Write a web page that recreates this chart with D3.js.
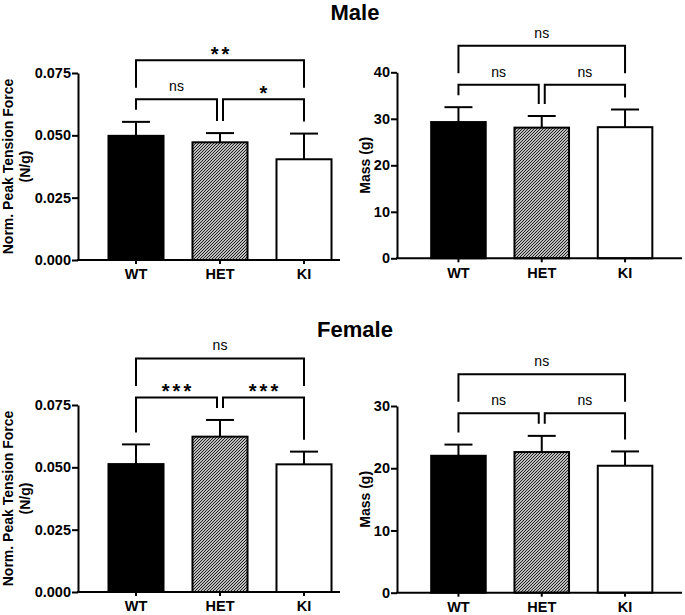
<!DOCTYPE html>
<html>
<head>
<meta charset="utf-8">
<script src="https://cdn.jsdelivr.net/npm/d3@7/dist/d3.min.js"></script>
<style>
  html, body { margin: 0; padding: 0; background: #fff; }
  svg text { font-family: "Liberation Sans", Arial, Helvetica, sans-serif; }
</style>
</head>
<body>
<svg id="chart" width="685" height="615"></svg>
<script>
// ---------- data ----------
const categories = ["WT", "HET", "KI"];

const maleForce    = [0.0498, 0.0472, 0.0404];
const maleForceSD  = [0.0056, 0.0037, 0.0103];
const maleMass     = [29.3, 28.1, 28.2];
const maleMassSD   = [3.2, 2.5, 3.8];

const femaleForce   = [0.0513, 0.0623, 0.0512];
const femaleForceSD = [0.0079, 0.0067, 0.0051];
const femaleMass    = [22.0, 22.6, 20.4];
const femaleMassSD  = [1.8, 2.6, 2.3];

const forceTicks      = [0, 0.025, 0.05, 0.075];
const maleMassTicks   = [0, 10, 20, 30, 40];
const femaleMassTicks = [0, 10, 20, 30];

// comparisons: [from, to, label]
const maleForceSig   = [["WT", "HET", "ns"], ["HET", "KI", "*"], ["WT", "KI", "**"]];
const maleMassSig    = [["WT", "HET", "ns"], ["HET", "KI", "ns"], ["WT", "KI", "ns"]];
const femaleForceSig = [["WT", "HET", "***"], ["HET", "KI", "***"], ["WT", "KI", "ns"]];
const femaleMassSig  = [["WT", "HET", "ns"], ["HET", "KI", "ns"], ["WT", "KI", "ns"]];

const forceLabel = ["Norm. Peak Tension Force", "(N/g)"];
const massLabel  = ["Mass (g)"];

// ---------- drawing ----------
const svg = d3.select("#chart");
const defs = svg.append("defs");
const pat = defs.append("pattern")
  .attr("id", "hatch").attr("patternUnits", "userSpaceOnUse")
  .attr("width", 3).attr("height", 3);
pat.append("rect").attr("width", 3).attr("height", 3).attr("fill", "#fff");
pat.append("path").attr("d", "M-1,1 l2,-2 M0,3 l3,-3 M2,4 l2,-2")
  .attr("stroke", "#111").attr("stroke-width", 1.05);

const fills = { WT: "#000", HET: "url(#hatch)", KI: "#fff" };

function panel(opt) {
  const g = svg.append("g");
  const x = d3.scaleBand().domain(categories)
    .range([opt.bandStart, opt.bandStart + opt.step * 3])
    .paddingInner(0.345).paddingOuter(0.1725);
  const y = d3.scaleLinear().domain([0, opt.ticks[opt.ticks.length - 1]])
    .range([opt.yBottom, opt.yTop]);

  const data = categories.map((c, i) => ({ c, v: opt.values[i], e: opt.sd[i] }));

  // bars
  g.selectAll("rect.bar").data(data).join("rect")
    .attr("class", "bar")
    .attr("x", d => x(d.c)).attr("width", x.bandwidth())
    .attr("y", d => y(d.v)).attr("height", d => y(0) - y(d.v))
    .attr("fill", d => fills[d.c])
    .attr("stroke", "#000").attr("stroke-width", 2);

  // error bars
  const cap = 28;
  g.selectAll("line.err").data(data).join("line")
    .attr("x1", d => x(d.c) + x.bandwidth() / 2).attr("x2", d => x(d.c) + x.bandwidth() / 2)
    .attr("y1", d => y(d.v)).attr("y2", d => y(d.v + d.e))
    .attr("stroke", "#000").attr("stroke-width", 2);
  g.selectAll("line.cap").data(data).join("line")
    .attr("x1", d => x(d.c) + x.bandwidth() / 2 - cap / 2)
    .attr("x2", d => x(d.c) + x.bandwidth() / 2 + cap / 2)
    .attr("y1", d => y(d.v + d.e)).attr("y2", d => y(d.v + d.e))
    .attr("stroke", "#000").attr("stroke-width", 2);

  // y axis
  const ya = g.append("g").attr("transform", `translate(${opt.axisX},0)`)
    .call(d3.axisLeft(y).tickValues(opt.ticks).tickFormat(opt.fmt)
      .tickSize(6).tickSizeOuter(0).tickPadding(1));
  ya.select(".domain").attr("stroke-width", 2);
  ya.selectAll(".tick line").attr("stroke-width", 2);
  ya.selectAll(".tick text").attr("font-size", 14.5).attr("font-weight", "bold")
    .attr("font-family", "Liberation Sans, Arial, sans-serif").attr("fill", "#000");

  // x axis
  const xa = g.append("g").attr("transform", `translate(0,${opt.yBottom})`)
    .call(d3.axisBottom(x).tickSize(4).tickSizeOuter(0).tickPadding(5));
  xa.select(".domain").remove();
  xa.selectAll(".tick line").attr("stroke-width", 2);
  xa.selectAll(".tick text").attr("font-size", 14.5).attr("font-weight", "bold")
    .attr("font-family", "Liberation Sans, Arial, sans-serif").attr("fill", "#000");
  g.append("line").attr("x1", opt.axisX - 1).attr("x2", opt.axisEnd)
    .attr("y1", opt.yBottom).attr("y2", opt.yBottom)
    .attr("stroke", "#000").attr("stroke-width", 2);

  // y label
  const lbl = g.append("text")
    .attr("transform", `translate(${opt.labelX},${(opt.yTop + opt.yBottom) / 2}) rotate(-90)`)
    .attr("text-anchor", "middle").attr("font-size", 14).attr("font-weight", "bold");
  opt.label.forEach((t, i) => {
    lbl.append("tspan").attr("x", 0).attr("dy", i === 0 ? 0 : 17).text(t);
  });

  // significance brackets
  const cx = c => x(c) + x.bandwidth() / 2;
  const errTop = {};
  data.forEach(d => errTop[d.c] = y(d.v + d.e));
  const lowY = d3.min(data, d => errTop[d.c]) - 22.5;
  const topY = lowY - 39;
  opt.sig.forEach(([a, b, label]) => {
    const wide = (a === categories[0] && b === categories[2]);
    const by = wide ? topY : lowY;
    let xa1 = cx(a), xb1 = cx(b);
    let ya1, yb1;
    if (wide) { ya1 = yb1 = lowY - 11.5; }
    else {
      ya1 = errTop[a] - 12; yb1 = errTop[b] - 12;
      if (a === "HET") xa1 += 3;
      if (b === "HET") xb1 -= 3;
    }
    g.append("path")
      .attr("d", `M${xa1},${ya1} V${by} H${xb1} V${yb1}`)
      .attr("fill", "none").attr("stroke", "#000").attr("stroke-width", 2);
    const isStar = label.indexOf("*") >= 0;
    g.append("text")
      .attr("x", (xa1 + xb1) / 2 + (isStar ? 1.5 : 0))
      .attr("y", isStar ? by + 0.5 : by - 8)
      .attr("text-anchor", "middle")
      .attr("font-size", isStar ? 20 : 14)
      .attr("font-weight", isStar ? "bold" : "normal")
      .attr("letter-spacing", isStar ? 3 : 0)
      .text(label);
  });
}

const fmt3 = d3.format(".3f");
const fmt0 = d3.format("d");

panel({ values: maleForce, sd: maleForceSD, ticks: forceTicks, fmt: fmt3, sig: maleForceSig,
  axisX: 78, axisEnd: 340, bandStart: 94, step: 84, yBottom: 260, yTop: 73,
  label: forceLabel, labelX: 13 });
panel({ values: maleMass, sd: maleMassSD, ticks: maleMassTicks, fmt: fmt0, sig: maleMassSig,
  axisX: 397, axisEnd: 682, bandStart: 416.8, step: 83.3, yBottom: 258.3, yTop: 72.3,
  label: massLabel, labelX: 370 });
panel({ values: femaleForce, sd: femaleForceSD, ticks: forceTicks, fmt: fmt3, sig: femaleForceSig,
  axisX: 78, axisEnd: 340, bandStart: 94, step: 84, yBottom: 592, yTop: 405,
  label: forceLabel, labelX: 13 });
panel({ values: femaleMass, sd: femaleMassSD, ticks: femaleMassTicks, fmt: fmt0, sig: femaleMassSig,
  axisX: 397, axisEnd: 682, bandStart: 416.8, step: 83.3, yBottom: 592.7, yTop: 406,
  label: massLabel, labelX: 370 });

// titles
svg.append("text").attr("x", 355).attr("y", 20).attr("text-anchor", "middle")
  .attr("font-size", 22).attr("font-weight", "bold").text("Male");
svg.append("text").attr("x", 355).attr("y", 337).attr("text-anchor", "middle")
  .attr("font-size", 22).attr("font-weight", "bold").text("Female");
</script>
</body>
</html>
